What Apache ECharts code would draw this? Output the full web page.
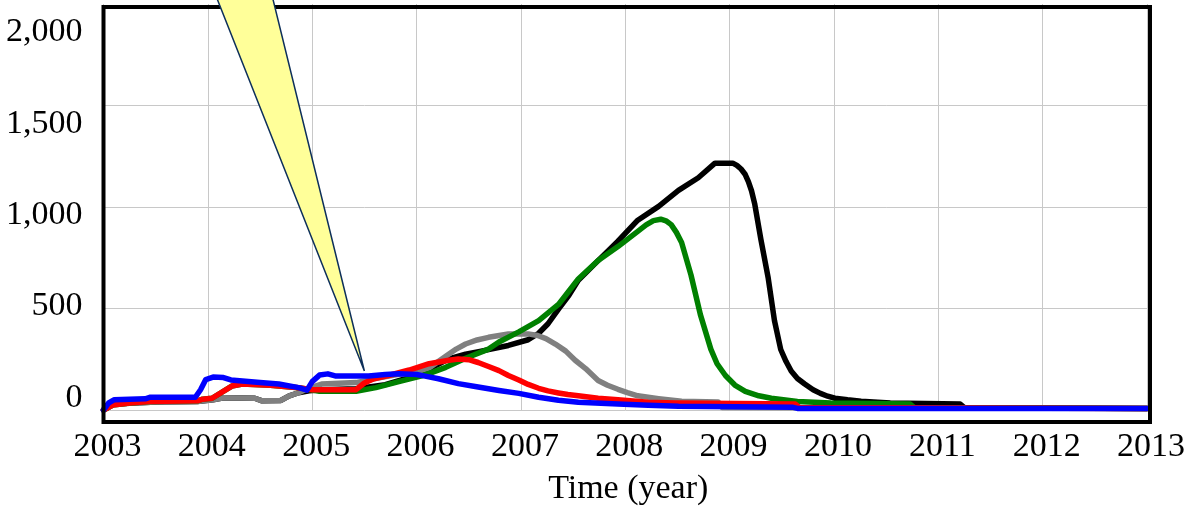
<!DOCTYPE html>
<html>
<head>
<meta charset="utf-8">
<script src="https://cdn.jsdelivr.net/npm/echarts@6/dist/echarts.min.js"></script>
<style>
  html, body { margin: 0; padding: 0; background: #ffffff; }
  #chart { width: 1188px; height: 511px; }
</style>
</head>
<body>
<div id="chart"></div>
<script>
// Axis ticks
const yearMin = 2003;
const yearMax = 2013;
const valueTicks = [0, 500, 1000, 1500, 2000];

// Series: time (year) and value pairs
const blackT = [2003.0, 2003.1, 2003.5, 2003.9, 2004.05, 2004.15, 2004.45, 2004.52, 2004.7, 2004.78, 2004.87, 2004.97, 2005.09, 2005.42, 2005.7, 2006.0, 2006.3, 2006.47, 2006.62, 2006.88, 2007.07, 2007.17, 2007.26, 2007.36, 2007.46, 2007.55, 2007.74, 2007.93, 2008.12, 2008.32, 2008.51, 2008.70, 2008.86, 2009.03, 2009.07, 2009.11, 2009.15, 2009.18, 2009.21, 2009.24, 2009.30, 2009.37, 2009.43, 2009.49, 2009.54, 2009.59, 2009.65, 2009.72, 2009.80, 2009.87, 2009.94, 2010.01, 2010.13, 2010.26, 2010.54, 2011.21, 2011.25, 2013.0];
const blackV = [0, 30, 40, 42, 50, 60, 58, 45, 47, 70, 85, 95, 100, 105, 125, 170, 250, 275, 290, 318, 346, 378, 425, 497, 565, 639, 736, 832, 935, 1003, 1082, 1144, 1216, 1216, 1205, 1187, 1160, 1125, 1080, 1017, 840, 650, 440, 298, 240, 192, 155, 128, 100, 82, 68, 58, 50, 43, 34, 29, 12, 8];

const greenT = [2003.0, 2003.09, 2003.25, 2003.44, 2003.9, 2003.95, 2004.04, 2004.23, 2004.33, 2004.6, 2004.87, 2005.07, 2005.42, 2005.61, 2005.83, 2006.05, 2006.15, 2006.28, 2006.47, 2006.69, 2006.79, 2006.98, 2007.17, 2007.36, 2007.55, 2007.74, 2007.93, 2008.12, 2008.20, 2008.27, 2008.34, 2008.39, 2008.44, 2008.49, 2008.54, 2008.63, 2008.72, 2008.82, 2008.88, 2008.96, 2009.05, 2009.15, 2009.28, 2009.40, 2009.65, 2009.97, 2010.73, 2010.77, 2013.0];
const greenV = [0, 24, 34, 42, 45, 53, 58, 118, 128, 122, 110, 92, 92, 110, 140, 168, 185, 210, 255, 300, 335, 385, 440, 520, 645, 736, 805, 880, 912, 933, 940, 932, 913, 875, 825, 665, 470, 300, 228, 170, 123, 92, 70, 58, 42, 34, 29, 12, 8];

const grayT = [2003.0, 2003.1, 2003.5, 2003.9, 2004.05, 2004.15, 2004.45, 2004.52, 2004.7, 2004.78, 2004.87, 2004.97, 2005.09, 2005.42, 2005.64, 2005.83, 2005.99, 2006.12, 2006.28, 2006.38, 2006.47, 2006.58, 2006.69, 2006.88, 2007.07, 2007.16, 2007.24, 2007.33, 2007.43, 2007.52, 2007.62, 2007.74, 2007.83, 2007.93, 2008.02, 2008.12, 2008.32, 2008.54, 2008.89, 2008.93, 2013.0];
const grayV = [0, 30, 40, 42, 50, 60, 58, 45, 47, 70, 85, 108, 128, 135, 158, 176, 185, 207, 265, 300, 325, 345, 358, 374, 375, 367, 352, 325, 290, 245, 204, 145, 122, 102, 86, 70, 56, 43, 40, 12, 8];

const redT = [2003.0, 2003.09, 2003.25, 2003.44, 2003.9, 2003.95, 2004.04, 2004.23, 2004.33, 2004.6, 2004.87, 2005.0, 2005.42, 2005.5, 2005.59, 2005.73, 2005.93, 2006.12, 2006.31, 2006.4, 2006.5, 2006.59, 2006.69, 2006.79, 2006.88, 2006.98, 2007.07, 2007.17, 2007.26, 2007.36, 2007.45, 2007.55, 2007.74, 2007.93, 2008.22, 2008.48, 2009.63, 2009.67, 2013.0];
const redV = [0, 24, 34, 42, 45, 53, 58, 118, 128, 122, 110, 100, 100, 133, 154, 170, 197, 228, 245, 251, 248, 234, 214, 194, 170, 148, 126, 107, 94, 84, 76, 70, 58, 50, 38, 34, 29, 12, 8];

const blueT = [2003.0, 2003.05, 2003.1, 2003.4, 2003.45, 2003.88, 2003.93, 2003.98, 2004.05, 2004.15, 2004.22, 2004.5, 2004.68, 2004.87, 2004.95, 2005.0, 2005.07, 2005.15, 2005.22, 2005.54, 2005.7, 2005.83, 2006.0, 2006.07, 2006.21, 2006.4, 2006.59, 2006.79, 2006.98, 2007.17, 2007.36, 2007.55, 2007.93, 2008.22, 2008.51, 2009.6, 2009.65, 2013.0];
const blueV = [0, 35, 50, 55, 63, 63, 100, 150, 162, 160, 148, 135, 128, 110, 98, 140, 172, 178, 168, 168, 175, 178, 175, 168, 154, 130, 113, 96, 82, 63, 48, 38, 29, 24, 19, 14, 8, 8];

// Callout wedge: tip and the two far corners, in (year, value)
const calloutTip = [2005.5, 192];
const calloutBase = [[2004.02, 2115], [2004.58, 2115]];

const FONT = '"Liberation Serif", "Times New Roman", serif';

function pairs(ts, vs) { return ts.map((t, i) => [t, vs[i]]); }

function lineSeries(name, color, ts, vs) {
  return {
    name: name,
    type: 'line',
    data: pairs(ts, vs),
    showSymbol: false,
    symbol: 'none',
    smooth: false,
    lineStyle: { color: color, width: 5.5, join: 'round', cap: 'round' },
    emphasis: { disabled: true },
    animation: false
  };
}

const chart = echarts.init(document.getElementById('chart'), null, { renderer: 'canvas' });

chart.setOption({
  animation: false,
  backgroundColor: '#ffffff',
  grid: { left: 103.5, right: 38, top: 4, bottom: 91, containLabel: false },
  xAxis: {
    type: 'value',
    min: yearMin,
    max: yearMax,
    interval: 1,
    axisLine: { show: false },
    axisTick: { show: false },
    splitLine: { show: true, lineStyle: { color: '#c8c8c8', width: 1 } },
    axisLabel: {
      color: '#000',
      fontFamily: FONT,
      fontSize: 34,
      margin: 20,
      padding: [0, 0, 0, 8],
      formatter: v => String(v)
    },
    name: 'Time (year)',
    nameLocation: 'middle',
    nameGap: 62,
    nameTextStyle: { color: '#000', fontFamily: FONT, fontSize: 34, padding: [0, 0, 0, 6] }
  },
  yAxis: [
    {
      type: 'value',
      min: 0,
      max: 2000,
      interval: 500,
      axisLine: { show: false },
      axisTick: { show: false },
      axisLabel: { show: false },
      splitLine: { show: true, showMaxLine: false, lineStyle: { color: '#c8c8c8', width: 1 } }
    },
    {
      // label scale for the left-hand value labels
      type: 'value',
      position: 'left',
      min: -67.9,
      max: 2156.1,
      axisLine: { show: false },
      axisTick: { show: false },
      splitLine: { show: false },
      axisLabel: {
        customValues: valueTicks,
        color: '#000',
        fontFamily: FONT,
        fontSize: 34,
        margin: 21,
        formatter: v => Number(v).toLocaleString('en-US')
      }
    }
  ],
  series: [
    lineSeries('black', '#000000', blackT, blackV),
    lineSeries('gray', '#808080', grayT, grayV),
    lineSeries('green', '#008000', greenT, greenV),
    lineSeries('red', '#ff0000', redT, redV),
    lineSeries('blue', '#0000ff', blueT, blueV)
  ]
});

// Frame around the plot and the callout wedge, placed from axis coordinates
const toPx = p => chart.convertToPixel({ xAxisIndex: 0, yAxisIndex: 0 }, p);
const tip = toPx(calloutTip);
const b0 = toPx(calloutBase[0]);
const b1 = toPx(calloutBase[1]);

chart.setOption({
  graphic: [
    {
      type: 'rect',
      z: 50,
      silent: true,
      shape: { x: 103.5, y: 7, width: 1046.5, height: 415 },
      style: { fill: 'none', stroke: '#000000', lineWidth: 4 }
    },
    {
      type: 'polygon',
      z: 60,
      silent: true,
      shape: { points: [b0, b1, tip] },
      style: { fill: '#ffff99', stroke: '#0d2f5a', lineWidth: 1.5, lineJoin: 'miter' }
    }
  ]
});
</script>
</body>
</html>
